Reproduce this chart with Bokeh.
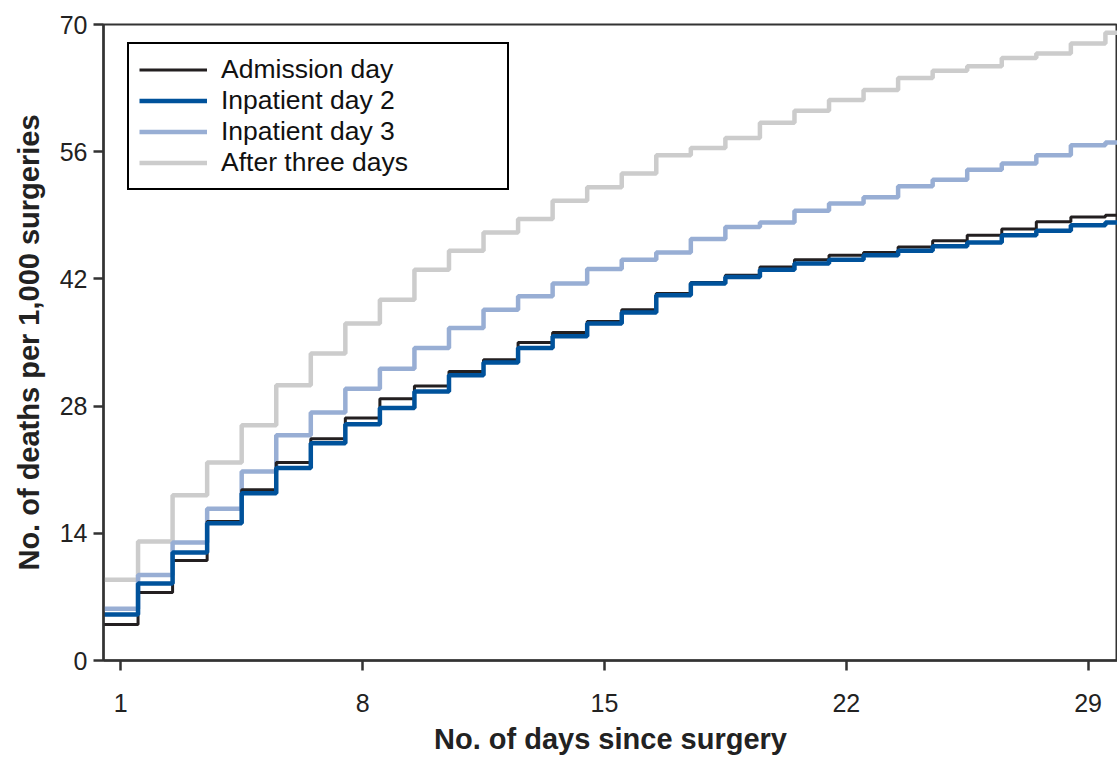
from bokeh.plotting import figure
from bokeh.models import Legend, LegendItem, FixedTicker
from bokeh.embed import file_html
from bokeh.resources import INLINE

days = list(range(1, 31))

admission_day = [3.96, 7.48, 11.0, 15.3, 18.8, 21.8, 24.4, 26.7, 28.8, 30.2,
                 31.8, 33.1, 35.0, 36.1, 37.3, 38.6, 40.4, 41.6, 42.4, 43.3,
                 44.1, 44.6, 44.9, 45.5, 46.2, 46.8, 47.5, 48.3, 48.8, 49.0]
inpatient_day2 = [5.06, 8.47, 11.9, 15.1, 18.4, 21.2, 23.9, 26.0, 27.8, 29.6,
                  31.4, 32.8, 34.4, 35.7, 37.1, 38.3, 40.2, 41.5, 42.2, 43.0,
                  43.7, 44.1, 44.6, 45.1, 45.6, 46.0, 46.8, 47.3, 47.9, 48.2]
inpatient_day3 = [5.7, 9.4, 13.0, 16.7, 20.8, 24.8, 27.3, 29.9, 32.1, 34.4,
                  36.6, 38.6, 40.1, 41.5, 43.1, 44.1, 44.9, 46.4, 47.7, 48.2,
                  49.5, 50.3, 51.0, 52.2, 52.9, 54.0, 54.7, 55.6, 56.7, 57.0]
after_three_days = [8.9, 13.1, 18.2, 21.8, 25.9, 30.3, 33.8, 37.1, 39.7, 43.0,
                    45.1, 47.1, 48.6, 50.6, 52.1, 53.6, 55.6, 56.4, 57.5, 59.2,
                    60.5, 61.7, 62.8, 64.1, 64.9, 65.4, 66.3, 66.8, 67.9, 69.1]

x_ticks = [1, 8, 15, 22, 29]
y_ticks = [0, 14, 28, 42, 56, 70]

FONT = "Liberation Sans"

p = figure(frame_width=1014, frame_height=636,
           x_range=(0.5, 29.85), y_range=(0, 70),
           output_backend="svg", toolbar_location=None,
           min_border_left=103, min_border_top=24, min_border_right=0,
           min_border_bottom=0,
           background_fill_color="white", border_fill_color="white")
p.grid.visible = False
p.outline_line_color = "#333333"
p.outline_line_width = 2

series = [
    ("After three days", after_three_days, "#cccccc", 4.5),
    ("Inpatient day 3", inpatient_day3, "#98aed4", 4.5),
    ("Admission day", admission_day, "#231f20", 3),
    ("Inpatient day 2", inpatient_day2, "#00529b", 4.5),
]
rends = {}
for name, vals, color, lw in series:
    # each day's value spans day-0.5 .. day+0.5
    xs = [d - 0.5 for d in days] + [days[-1] + 0.5]
    ys = vals + [vals[-1]]
    rends[name] = p.step(xs, ys, mode="after", line_color=color, line_width=lw)

order = ["Admission day", "Inpatient day 2", "Inpatient day 3", "After three days"]
legend = Legend(items=[LegendItem(label=n, renderers=[rends[n]]) for n in order],
                location=(24, 470), label_text_font=FONT, label_text_font_size="26.5px",
                glyph_width=68, glyph_height=27, spacing=0, padding=10, margin=0,
                label_standoff=14, border_line_color="black", border_line_width=2,
                border_line_alpha=1.0,
                label_height=27, label_width=276, label_text_color="#111111")
p.add_layout(legend, "center")

for ax in (p.xaxis, p.yaxis):
    ax.axis_line_width = 2.5
    ax.axis_line_color = "#333333"
    ax.major_tick_line_width = 2.5
    ax.major_tick_line_color = "#333333"
    ax.major_tick_out = 10
    ax.major_tick_in = 0
    ax.minor_tick_line_color = None
    ax.major_label_text_font = FONT
    ax.major_label_text_font_size = "25px"
    ax.major_label_text_color = "#222222"
    ax.axis_label_text_font = FONT
    ax.axis_label_text_font_size = "29px"
    ax.axis_label_text_font_style = "bold"
    ax.axis_label_text_color = "#222222"

p.yaxis.major_label_standoff = 6
p.yaxis.axis_label_standoff = 12
p.xaxis.major_label_standoff = 23
p.xaxis.axis_label_standoff = 8

p.xaxis.ticker = FixedTicker(ticks=x_ticks)
p.yaxis.ticker = FixedTicker(ticks=y_ticks)
p.xaxis.axis_label = "No. of days since surgery"
p.yaxis.axis_label = "No. of deaths per 1,000 surgeries"

open("out.html", "w").write(file_html(p, INLINE))
